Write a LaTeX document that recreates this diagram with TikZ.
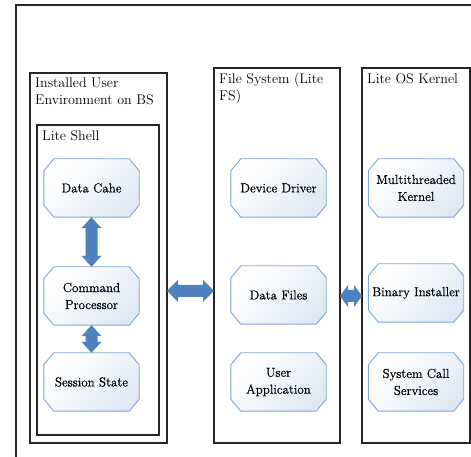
\documentclass[tikz,border=0pt]{standalone}
\usepackage{fontspec}
\newfontfamily\nodefont[FakeBold=0.6]{Latin Modern Roman}
\usetikzlibrary{calc}
\definecolor{octborder}{HTML}{7EA6D6}
\definecolor{octfill}{HTML}{DFE8F3}
\definecolor{arrblue}{HTML}{4F81BD}
\pgfdeclarelayer{bg}
\pgfsetlayers{bg,main}
\tikzset{
  frame/.style={draw=black!85, line width=1.6pt},
  octo/.style={minimum width=95pt, minimum height=58pt, inner sep=0pt, align=center,
    font=\nodefont\fontsize{13}{17}\selectfont},
  title/.style={anchor=north west, align=left, inner sep=0pt, font=\fontsize{14}{16.5}\selectfont},
  arr/.style={fill=arrblue, draw=none},
}
\newcommand\octshape[1]{%
  \begin{pgfonlayer}{bg}
  \shade[shading=axis, top color=white, bottom color=octfill, middle color=white!55!octfill, shading angle=45, draw=octborder, line width=0.9pt]
    ($(#1.north west)+(10,0)$) -- ($(#1.north east)+(-10,0)$) -- ($(#1.north east)+(0,-12)$)
    -- ($(#1.south east)+(0,12)$) -- ($(#1.south east)+(-10,0)$) -- ($(#1.south west)+(10,0)$)
    -- ($(#1.south west)+(0,12)$) -- ($(#1.north west)+(0,-12)$) -- cycle;
  \end{pgfonlayer}}
\newcommand\varr[2]{%
  \fill[arr] (#1) -- ($(#1)+(10,-11)$) -- ($(#1)+(6,-11)$) -- ($(#2)+(6,11)$) -- ($(#2)+(10,11)$)
    -- (#2) -- ($(#2)+(-10,11)$) -- ($(#2)+(-6,11)$) -- ($(#1)+(-6,-11)$) -- ($(#1)+(-10,-11)$) -- cycle;}
\newcommand\harr[3]{%
  \fill[arr] (#1) -- ($(#1)+(#3,11)$) -- ($(#1)+(#3,6)$) -- ($(#2)+(-#3,6)$) -- ($(#2)+(-#3,11)$)
    -- (#2) -- ($(#2)+(-#3,-11)$) -- ($(#2)+(-#3,-6)$) -- ($(#1)+(#3,-6)$) -- ($(#1)+(#3,-11)$) -- cycle;}
\begin{document}
\begin{tikzpicture}[x=1pt, y=1pt]
\useasboundingbox (0,0) rectangle (471,457);
% outer frame (clipped at right and bottom)
\draw[frame] (16,0) -- (16,452) -- (471,452);
% containers
\draw[frame] (30,14) rectangle (167,384);
\node[title] (uet) at (35,379) {Installed User\\Environment on BS};
\draw[frame] (37,22) rectangle (159,332);
\node[title] (lst) at (42,327) {Lite Shell};
\draw[frame] (214,14) rectangle (340,389);
\node[title] (fst) at (219,384) {File System (Lite\\FS)};
\draw[frame] (362,14) rectangle (470,389);
\node[title] (krt) at (367,384) {Lite OS Kernel};
% octagon nodes
\node[octo] (dc) at (91.5,269) {Data Cahe};
\node[octo] (cp) at (91.5,161) {Command\\Processor};
\node[octo] (ss) at (91.5,75) {Session State};
\node[octo] (dd) at (278.5,269) {Device Driver};
\node[octo] (df) at (278.5,162) {Data Files};
\node[octo] (ua) at (278.5,75) {User\\Application};
\node[octo] (mk) at (416,269) {Multithreaded\\Kernel};
\node[octo] (bi) at (416,164) {Binary Installer};
\node[octo] (sc) at (416,75) {System Call\\Services};
\foreach \n in {dc,cp,ss,dd,df,ua,mk,bi,sc} {\octshape{\n}}
% arrows
\varr{dc.south}{cp.north}
\varr{cp.south}{ss.north}
\coordinate (h1a) at (167,166);
\coordinate (h1b) at (214,166);
\coordinate (h2a) at (340,161);
\coordinate (h2b) at (362,161);
\harr{h1a}{h1b}{11}
\harr{h2a}{h2b}{8}
\end{tikzpicture}
\end{document}
